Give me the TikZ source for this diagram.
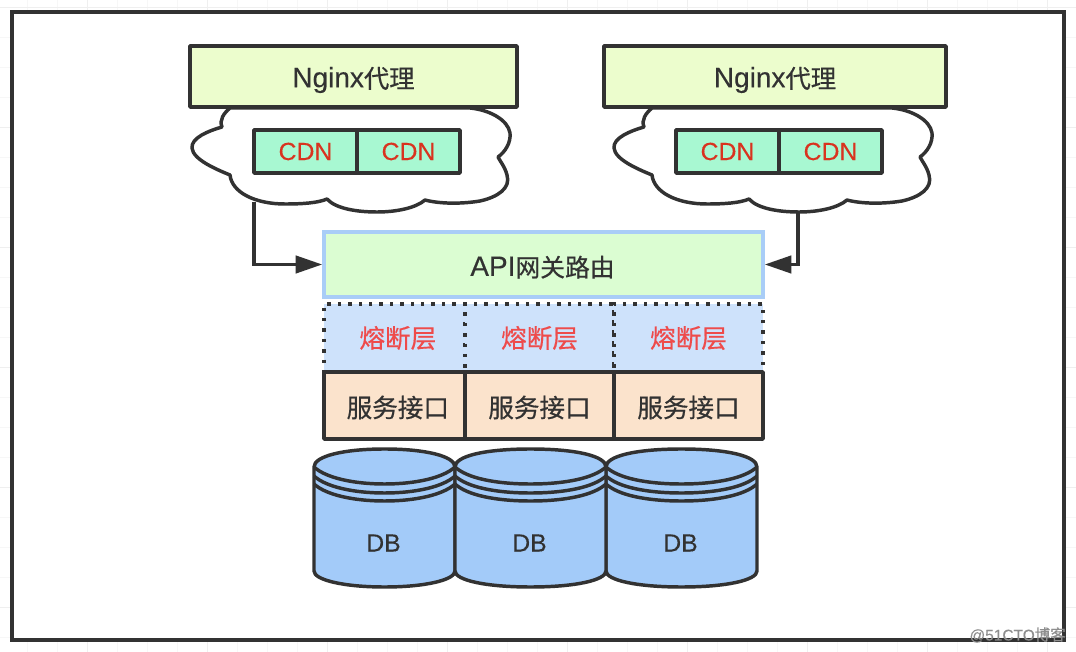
\documentclass[tikz,border=0pt]{standalone}
\usepackage{fontspec}
\setmainfont{Liberation Sans}[FakeBold=0.25]
\newfontfamily\zh{Noto Sans CJK SC}[FakeBold=0.5]
\usetikzlibrary{arrows.meta}
\definecolor{ink}{HTML}{323232}
\definecolor{nginxfill}{HTML}{ECFDCD}
\definecolor{cdnfill}{HTML}{A8F8D2}
\definecolor{cdntext}{HTML}{D9331F}
\definecolor{apifill}{HTML}{DBFDD2}
\definecolor{apiline}{HTML}{A9CDF7}
\definecolor{fusefill}{HTML}{CEE2FB}
\definecolor{fusetext}{HTML}{EE4B4B}
\definecolor{svcfill}{HTML}{FBE3CC}
\definecolor{dbfill}{HTML}{A3CBF9}
\definecolor{gridminor}{HTML}{F7F7F7}
\definecolor{gridmajor}{HTML}{EFEFEF}
\definecolor{wmark}{HTML}{8E8E8E}
\newcommand{\sz}[1]{\fontsize{#1}{#1}\selectfont}
\newcommand{\zhtext}[2]{\raisebox{-0.5pt}{\sz{#1}\zh #2}}
\newcommand{\sinktext}[2]{\raisebox{-#1}[\height][\depth]{#2}}
\tikzset{
  x=0.75pt,y=-0.75pt,
  heavy/.style={draw=ink,line width=2.6pt,line join=round},
  nginxbox/.style={heavy,fill=nginxfill,minimum height=45.75pt,inner sep=0pt,text=ink},
  cdnbox/.style={heavy,fill=cdnfill,minimum width=77.25pt,minimum height=32.25pt,inner sep=0pt,font=\sz{18.6},text=cdntext},
  apibox/.style={draw=apiline,line width=2.6pt,fill=apifill,inner sep=0pt,text=ink},
  fusebox/.style={draw=ink,line width=2.6pt,dash pattern=on 2.6pt off 5.2pt,fill=fusefill,inner sep=0pt,text=fusetext},
  svcbox/.style={heavy,fill=svcfill,inner sep=0pt,text=ink},
  cloudline/.style={heavy,fill=white},
  link/.style={draw=ink,line width=2.6pt,-{Triangle[length=20pt,width=13pt]}},
  dbtext/.style={inner sep=0pt,font=\sz{18.6},text=ink},
  markstyle/.style={inner sep=0pt,font=\sz{11.6},text=wmark,anchor=east},
}
\newcommand{\cloudshape}[1]{%
  \draw[cloudline,shift={(#1,0)}] (230,108)
    .. controls (224,113) and (219,120) .. (222,127)
    .. controls (208,131) and (191,138) .. (192,148)
    .. controls (193,160) and (218,170) .. (230,175)
    .. controls (232,193) and (256,204) .. (285,204)
    .. controls (302,204) and (318,203) .. (327,199)
    .. controls (336,209) and (358,212) .. (377,212)
    .. controls (396,212) and (416,208) .. (425,200)
    .. controls (440,204) and (462,204) .. (480,201)
    .. controls (498,197) and (511,188) .. (507,175)
    .. controls (505,167) and (500,161) .. (498,157)
    .. controls (505,152) and (511,143) .. (510,133)
    .. controls (508,120) and (490,110) .. (470,108) -- cycle;}
\newcommand{\dbcyl}[4]{% left, right, name, label
  \draw[heavy,fill=dbfill] (#1,467) .. controls (#1,456) and (#1+30,449) .. ({(#1+#2)/2},449)
     .. controls (#2-30,449) and (#2,456) .. (#2,467) -- (#2,571)
     .. controls (#2,580) and (#2-30,587) .. ({(#1+#2)/2},587)
     .. controls (#1+30,587) and (#1,580) .. (#1,571) -- cycle;
  \foreach \yy in {467,476,484}{
    \draw[heavy] (#1,\yy) .. controls (#1+12,\yy+11) and (#1+40,\yy+17) .. ({(#1+#2)/2},\yy+17)
       .. controls (#2-40,\yy+17) and (#2-12,\yy+11) .. (#2,\yy);}
  \node[dbtext] (#3) at ({(#1+#2)/2-1},543) {#4};}
\begin{document}
\begin{tikzpicture}
\useasboundingbox (0,0) rectangle (1076,652);
\fill[white] (0,0) rectangle (1076,652);
\foreach \gx in {-3,27,...,1077}
  \draw[gridminor,line width=0.6pt] (\gx,0) -- (\gx,652);
\foreach \gy in {7,37,...,637}
  \draw[gridminor,line width=0.6pt] (0,\gy) -- (1076,\gy);
\foreach \gx in {87,207,...,1047}
  \draw[gridmajor,line width=0.7pt] (\gx,0) -- (\gx,652);
\foreach \gy in {7,127,...,607}
  \draw[gridmajor,line width=0.7pt] (0,\gy) -- (1076,\gy);
\draw[draw=ink,fill=white,line width=2.8pt] (12,12) rectangle (1064,640);

\cloudshape{0}
\cloudshape{422}

\node[nginxbox,minimum width=245.25pt] (ngA) at (353.5,76.5) {\sinktext{2.6pt}{\sz{21}Nginx\zhtext{19}{代理}}};
\node[nginxbox,minimum width=256.5pt] (ngB) at (775,76.5) {\sinktext{2.6pt}{\sz{21}Nginx\zhtext{19}{代理}}};

\node[cdnbox] (cA1) at (305.5,151.5) {CDN};
\node[cdnbox] (cA2) at (408.5,151.5) {CDN};
\node[cdnbox] (cB1) at (727.5,151.5) {CDN};
\node[cdnbox] (cB2) at (830.5,151.5) {CDN};

\node[apibox,minimum width=329.25pt,minimum height=48.75pt] (api) at (543.5,264.5) {\sinktext{2pt}{\hspace{-1.5pt}\sz{21}API\zhtext{18.6}{网关路由}}};

\node[fusebox,minimum width=105.75pt,minimum height=51pt] (fA) at (394.5,338) {\hspace{5pt}\zhtext{19.2}{熔断层}};
\node[fusebox,minimum width=111.75pt,minimum height=51pt] (fB) at (539.5,338) {\zhtext{19.2}{熔断层}};
\node[fusebox,minimum width=111.75pt,minimum height=51pt] (fC) at (688.5,338) {\zhtext{19.2}{熔断层}};

\node[svcbox,minimum width=105.75pt,minimum height=50.25pt] (sA) at (394.5,405.5) {\sinktext{1.5pt}{\hspace{5pt}\zhtext{19.2}{服务接口}}};
\node[svcbox,minimum width=111.75pt,minimum height=50.25pt] (sB) at (539.5,405.5) {\sinktext{1.5pt}{\zhtext{19.2}{服务接口}}};
\node[svcbox,minimum width=111.75pt,minimum height=50.25pt] (sC) at (688.5,405.5) {\sinktext{1.5pt}{\zhtext{19.2}{服务接口}}};

\dbcyl{314}{455}{dA}{DB}
\dbcyl{606}{757}{dC}{DB}
\dbcyl{455}{606}{dB}{DB}

\coordinate (startA) at (254,202);
\coordinate (startB) at (798,212);
\draw[link] (startA) |- (api.west);
\draw[link] (startB) |- (api.east);

\node[markstyle] (wm) at (1066,635) {@51CTO{\zh 博客}};
\end{tikzpicture}
\end{document}
